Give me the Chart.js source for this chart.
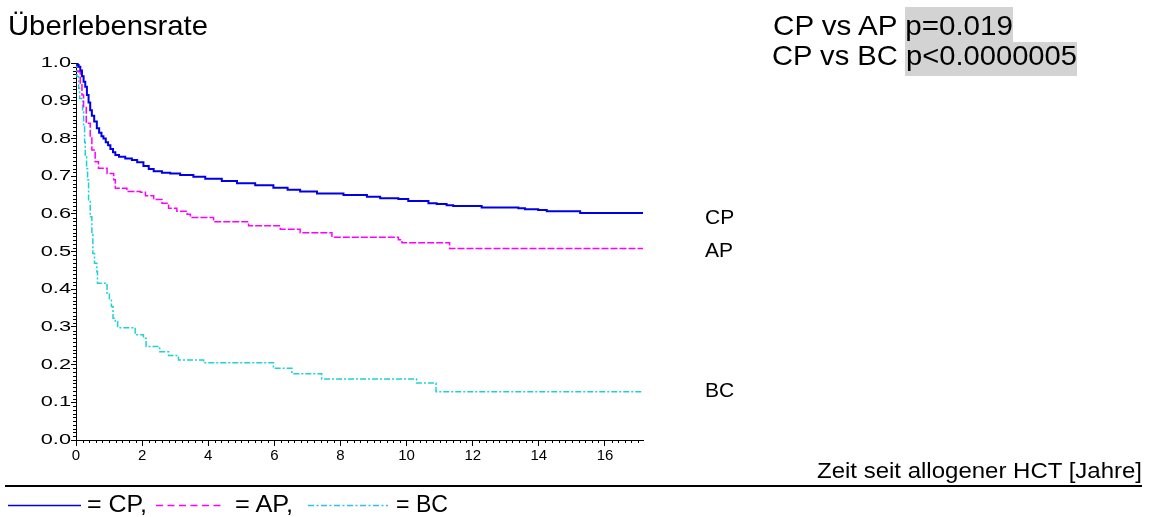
<!DOCTYPE html>
<html><head><meta charset="utf-8">
<script src="https://cdn.jsdelivr.net/npm/chart.js@4/dist/chart.umd.min.js"></script>
<style>
html,body{margin:0;padding:0;background:#fff;}
#wrap{position:relative;width:1152px;height:517px;overflow:hidden;background:#fff;}
#c{position:absolute;left:0;top:0;}
#ov{position:absolute;left:0;top:0;pointer-events:none;}
#ov text{font-family:"Liberation Sans",Arial,sans-serif;fill:#000;}
</style></head><body>
<div id="wrap">
<canvas id="c" width="1152" height="517"></canvas>
<svg id="ov" width="1152" height="517" xmlns="http://www.w3.org/2000/svg">
  <text x="8" y="35" font-size="28" textLength="200" lengthAdjust="spacingAndGlyphs">Überlebensrate</text>
  <rect x="905" y="7" width="108" height="35" fill="#d3d3d3"/>
  <rect x="905" y="42" width="172" height="34" fill="#d3d3d3"/>
  <text x="773" y="35" font-size="28" textLength="240" lengthAdjust="spacingAndGlyphs">CP vs AP p=0.019</text>
  <text x="772" y="65" font-size="28" textLength="305" lengthAdjust="spacingAndGlyphs">CP vs BC p&lt;0.0000005</text>
  <text x="705" y="224" font-size="21">CP</text>
  <text x="705" y="257" font-size="21">AP</text>
  <text x="705" y="397" font-size="21">BC</text>
  <text x="817" y="478" font-size="22" textLength="325" lengthAdjust="spacingAndGlyphs">Zeit seit allogener HCT [Jahre]</text>
  <line x1="5" y1="486" x2="1142" y2="486" stroke="#000" stroke-width="2"/>
  <line x1="8" y1="505.5" x2="81" y2="505.5" stroke="#0000e6" stroke-width="1.5"/>
  <text x="87" y="512" font-size="23" textLength="60" lengthAdjust="spacingAndGlyphs">= CP,</text>
  <line x1="156" y1="505.5" x2="221" y2="505.5" stroke="#ff00ff" stroke-width="1.5" stroke-dasharray="7 4.5"/>
  <text x="235" y="512" font-size="23" textLength="58" lengthAdjust="spacingAndGlyphs">= AP,</text>
  <line x1="308" y1="505.5" x2="388" y2="505.5" stroke="#2ec0f0" stroke-width="1.5" stroke-dasharray="6 2.5 2 2.5"/>
  <text x="396" y="512" font-size="23" textLength="52" lengthAdjust="spacingAndGlyphs">= BC</text>
</svg>
</div>
<script>
// ---- data (Kaplan-Meier steps) ----
const X_MAX = 17.15;
const xTickStep = 2;
const yTickStep = 0.1;

const cpTime = [0,0.04,0.08,0.13,0.18,0.23,0.28,0.33,0.38,0.43,0.48,0.55,0.63,0.7,0.77,0.83,0.9,0.97,1.04,1.12,1.19,1.3,1.49,1.69,1.85,2.04,2.2,2.35,2.6,2.85,3.15,3.55,3.91,4.41,4.87,5.42,5.97,6.4,6.78,7.29,8.09,8.8,9.2,9.75,10.05,10.66,10.91,11.21,11.41,12.27,13.38,13.58,13.98,14.24,15.25,17.15];
const cpSurv = [1,0.995,0.99,0.98,0.965,0.95,0.937,0.915,0.895,0.875,0.86,0.845,0.827,0.815,0.806,0.8,0.79,0.782,0.772,0.763,0.756,0.751,0.747,0.743,0.737,0.727,0.719,0.713,0.709,0.707,0.703,0.698,0.693,0.687,0.681,0.676,0.669,0.664,0.659,0.654,0.65,0.645,0.641,0.639,0.634,0.628,0.626,0.623,0.621,0.617,0.615,0.612,0.61,0.607,0.602,0.602];

const apTime = [0,0.06,0.13,0.18,0.23,0.31,0.43,0.48,0.58,0.68,0.94,1.14,1.19,1.54,1.95,2.1,2.35,2.6,2.8,3.05,3.36,3.46,4.16,5.22,6.18,6.78,7.74,9.75,9.86,11.3,17.15];
const apSurv = [1,0.977,0.946,0.915,0.884,0.84,0.804,0.769,0.738,0.721,0.707,0.69,0.668,0.659,0.657,0.648,0.638,0.628,0.615,0.607,0.599,0.59,0.579,0.568,0.559,0.55,0.538,0.531,0.523,0.508,0.508];

const bcTime = [0,0.03,0.08,0.11,0.18,0.2,0.23,0.26,0.28,0.32,0.35,0.38,0.43,0.48,0.51,0.56,0.63,0.65,0.89,0.94,1.01,1.07,1.12,1.19,1.26,1.79,2.04,2.12,2.53,2.8,3.1,3.86,5.97,6.53,7.43,10.3,10.89,17.15];
const bcSurv = [1,0.964,0.933,0.906,0.902,0.87,0.831,0.79,0.751,0.72,0.69,0.637,0.592,0.545,0.495,0.469,0.446,0.416,0.411,0.389,0.371,0.354,0.323,0.314,0.298,0.279,0.27,0.248,0.234,0.224,0.212,0.205,0.19,0.176,0.162,0.151,0.128,0.128];

const seriesNames = ['CP','AP','BC'];

// ---- helpers ----
function pts(t, s){ return t.map((v,i)=>({x:v, y:s[i]})); }

const Y_LABEL_STRETCH = 1.45;
class StretchY extends Chart.LinearScale {
  drawLabels(area){
    const ctx = this.ctx;
    const xr = this.right - 5;
    ctx.save();
    ctx.translate(xr,0); ctx.scale(Y_LABEL_STRETCH,1); ctx.translate(-xr,0);
    super.drawLabels(area);
    ctx.restore();
  }
}
StretchY.id = 'stretchY';
StretchY.defaults = Chart.LinearScale.defaults;
Chart.register(StretchY);

const minorTicks = {
  id:'minorTicks',
  afterDraw(chart){
    const ctx = chart.ctx, xs = chart.scales.x, ys = chart.scales.y, a = chart.chartArea;
    ctx.save();
    ctx.strokeStyle = '#000'; ctx.lineWidth = 1;
    ctx.beginPath();
    for (let i=0; i*0.2 <= xs.max + 1e-9; i++){
      if (i % 10 === 0) continue;
      const px = Math.round(xs.getPixelForValue(i*0.2)) + 0.5;
      ctx.moveTo(px, a.bottom); ctx.lineTo(px, a.bottom + 3);
    }
    for (let i=0; i<=100; i++){
      if (i % 10 === 0) continue;
      const py = Math.round(ys.getPixelForValue(i/100)) + 0.5;
      ctx.moveTo(a.left - 3, py); ctx.lineTo(a.left, py);
    }
    ctx.stroke();
    ctx.restore();
  }
};

const FONT = '"Liberation Sans", Arial, sans-serif';

new Chart(document.getElementById('c'), {
  type:'line',
  data:{
    datasets:[
      {label:seriesNames[0], data:pts(cpTime,cpSurv), borderColor:'#0000e6', borderWidth:2, stepped:true, pointRadius:0, fill:false},
      {label:seriesNames[1], data:pts(apTime,apSurv), borderColor:'#ff00ff', borderWidth:1.5, borderDash:[7,2], stepped:true, pointRadius:0, fill:false},
      {label:seriesNames[2], data:pts(bcTime,bcSurv), borderColor:'#1ed2d2', borderWidth:1.5, borderDash:[6,2,2,2], stepped:true, pointRadius:0, fill:false}
    ]
  },
  options:{
    responsive:false,
    animation:false,
    devicePixelRatio:1,
    layout:{padding:{left:0, top:63, right:509, bottom:47}},
    plugins:{legend:{display:false}, tooltip:{enabled:false}, title:{display:false}},
    scales:{
      x:{
        type:'linear', min:0, max:X_MAX,
        afterFit(s){ s.height = 30; },
        afterBuildTicks(s){ s.ticks = s.ticks.filter(t => Math.abs(t.value/xTickStep - Math.round(t.value/xTickStep)) < 1e-6); },
        ticks:{stepSize:xTickStep, includeBounds:false, autoSkip:false, maxRotation:0, padding:1, color:'#000', font:{family:FONT, size:15}},
        grid:{drawOnChartArea:false, drawTicks:true, tickLength:6, color:'#000'},
        border:{display:true, color:'#000', width:1}
      },
      y:{
        type:'stretchY', min:0, max:1,
        afterFit(s){ s.width = 76; },
        ticks:{stepSize:yTickStep, padding:0, color:'#000', font:{family:FONT, size:15}, callback:v => Number(v).toFixed(1)},
        grid:{drawOnChartArea:false, drawTicks:true, tickLength:5, color:'#000'},
        border:{display:true, color:'#000', width:1}
      }
    }
  },
  plugins:[minorTicks]
});
</script>
</body></html>
